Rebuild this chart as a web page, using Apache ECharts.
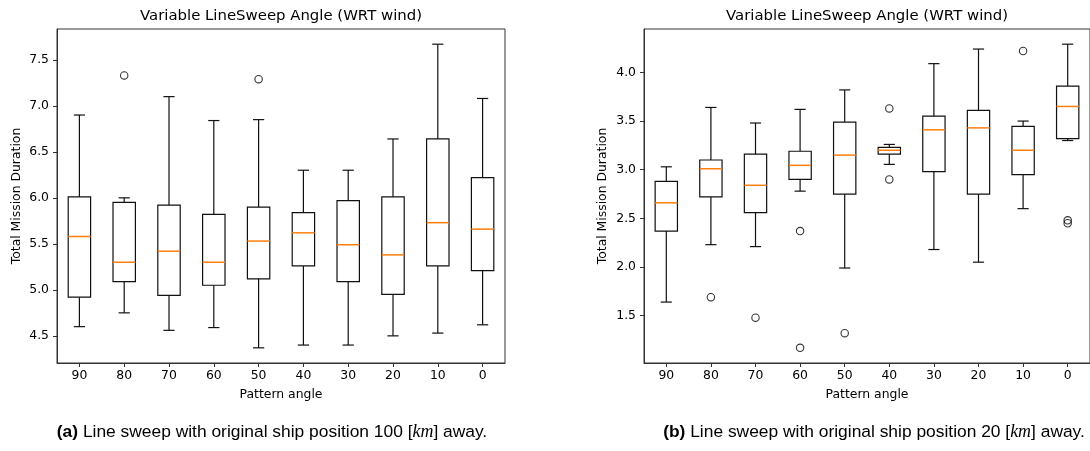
<!DOCTYPE html>
<html><head><meta charset="utf-8">
<script src="https://cdn.jsdelivr.net/npm/echarts@6/dist/echarts.min.js"></script>
<style>html,body{margin:0;padding:0;background:#fff}#c{width:1090px;height:451px}</style>
</head><body><div id="c"></div>
<script>
// ---- data ----
const categories = ['90','80','70','60','50','40','30','20','10','0'];

// (a) 100 km
const lowA  = [4.60, 4.75, 4.56, 4.59, 4.37, 4.40, 4.40, 4.50, 4.53, 4.62];
const q1A   = [4.92, 5.09, 4.94, 5.05, 5.12, 5.26, 5.09, 4.95, 5.26, 5.21];
const medA  = [5.58, 5.30, 5.42, 5.30, 5.53, 5.62, 5.49, 5.38, 5.73, 5.66];
const q3A   = [6.01, 5.95, 5.92, 5.82, 5.90, 5.84, 5.97, 6.01, 6.64, 6.22];
const highA = [6.90, 6.00, 7.10, 6.84, 6.85, 6.30, 6.30, 6.64, 7.67, 7.08];
const outliersA = [['80', 7.33], ['50', 7.29]];
const yTicksA = [4.5, 5.0, 5.5, 6.0, 6.5, 7.0, 7.5];
const yRangeA = [4.205, 7.835];

// (b) 20 km
const lowB  = [1.64, 2.23, 2.21, 2.78, 1.99, 3.055, 2.18, 2.05, 2.60, 3.30];
const q1B   = [2.37, 2.72, 2.56, 2.90, 2.75, 3.16, 2.98, 2.75, 2.95, 3.32];
const medB  = [2.66, 3.01, 2.84, 3.045, 3.15, 3.20, 3.41, 3.43, 3.20, 3.65];
const q3B   = [2.88, 3.10, 3.16, 3.19, 3.49, 3.23, 3.55, 3.61, 3.445, 3.86];
const highB = [3.03, 3.64, 3.48, 3.62, 3.82, 3.26, 4.09, 4.24, 3.50, 4.29];
const outliersB = [['80', 1.69], ['70', 1.48], ['60', 2.37], ['60', 1.17], ['50', 1.32],
                   ['40', 3.63], ['40', 2.90], ['10', 4.22], ['0', 2.48], ['0', 2.45]];
const yTicksB = [1.5, 2.0, 2.5, 3.0, 3.5, 4.0];
const yRangeB = [1.014, 4.446];

const titleText = 'Variable LineSweep Angle (WRT wind)';
const xName = 'Pattern angle';
const yName = 'Total Mission Duration';

// ---- rendering ----
function boxData(low, q1, med, q3, high) {
  return categories.map((c, i) => [i, low[i], q1[i], med[i], q3[i], high[i]]);
}
function seg(x1, y1, x2, y2, color, w) {
  return {type: 'line', shape: {x1, y1, x2, y2}, style: {stroke: color, lineWidth: w}};
}
function renderBox(params, api) {
  const x = api.value(0);
  const lo = api.coord([x, api.value(1)]);
  const q1 = api.coord([x, api.value(2)]);
  const md = api.coord([x, api.value(3)]);
  const q3 = api.coord([x, api.value(4)]);
  const hi = api.coord([x, api.value(5)]);
  const band = api.size([1, 0])[0];
  const bw = band * 0.5, cw = band * 0.25;
  const cx = lo[0];
  const k = '#111', lw = 1.2;
  return {type: 'group', children: [
    seg(cx, lo[1], cx, q1[1], k, lw),
    seg(cx, q3[1], cx, hi[1], k, lw),
    seg(cx - cw / 2, lo[1], cx + cw / 2, lo[1], k, lw),
    seg(cx - cw / 2, hi[1], cx + cw / 2, hi[1], k, lw),
    {type: 'rect', shape: {x: cx - bw / 2, y: q3[1], width: bw, height: q1[1] - q3[1]},
     style: {fill: 'rgba(0,0,0,0)', stroke: k, lineWidth: lw}},
    seg(cx - bw / 2, md[1], cx + bw / 2, md[1], '#ff7f0e', 1.5)
  ]};
}

const FONT = 'DejaVu Sans';
const axisColor = '#333';
function xAxisOf(gi) {
  return {
    type: 'category', gridIndex: gi, data: categories, boundaryGap: true,
    axisLine: {show: true, lineStyle: {color: axisColor, width: 1}},
    axisTick: {show: true, alignWithLabel: true, length: 4, lineStyle: {color: axisColor}},
    axisLabel: {color: '#000', fontSize: 12.4, fontFamily: FONT, margin: 7},
    splitLine: {show: false},
    name: xName, nameLocation: 'middle', nameGap: 26,
    nameTextStyle: {color: '#000', fontSize: 12.4, fontFamily: FONT}
  };
}
function yAxisOf(gi, range, ticks, gap) {
  return {
    type: 'value', gridIndex: gi, min: range[0], max: range[1],
    axisLine: {show: true, lineStyle: {color: axisColor, width: 1}},
    axisTick: {show: true, length: 4, customValues: ticks, lineStyle: {color: axisColor}},
    axisLabel: {color: '#000', fontSize: 12.4, fontFamily: FONT, margin: 8,
                customValues: ticks, formatter: v => Number(v).toFixed(1)},
    splitLine: {show: false},
    name: yName, nameLocation: 'middle', nameGap: gap, nameRotate: 90,
    nameTextStyle: {color: '#000', fontSize: 12.4, fontFamily: FONT}
  };
}
function fliers(data, xi) {
  return {type: 'scatter', xAxisIndex: xi, yAxisIndex: xi, data: data,
          symbol: 'circle', symbolSize: 7.4,
          itemStyle: {color: 'rgba(0,0,0,0)', borderColor: '#000', borderWidth: 1.1}};
}

const chart = echarts.init(document.getElementById('c'), null, {renderer: 'canvas'});
const CAP = 17.4;
const captionRich = {
  b: {fontWeight: 'bold', fontFamily: 'Liberation Sans', fontSize: CAP, fill: '#000'},
  i: {fontStyle: 'italic', fontFamily: 'Liberation Serif', fontSize: CAP + 0.5, fill: '#000'}
};
chart.setOption({
  animation: false,
  backgroundColor: '#fff',
  title: [
    {text: titleText, left: 281, top: 9, textAlign: 'center', padding: 0,
     textStyle: {fontFamily: FONT, fontSize: 14.9, fontWeight: 'normal', color: '#000'}},
    {text: titleText, left: 867, top: 9, textAlign: 'center', padding: 0,
     textStyle: {fontFamily: FONT, fontSize: 14.9, fontWeight: 'normal', color: '#000'}}
  ],
  grid: [
    {left: 57, top: 29, width: 448, height: 334, show: true, borderColor: axisColor, borderWidth: 1, backgroundColor: 'transparent'},
    {left: 644, top: 29, width: 447, height: 334, show: true, borderColor: axisColor, borderWidth: 1, backgroundColor: 'transparent'}
  ],
  xAxis: [xAxisOf(0), xAxisOf(1)],
  yAxis: [yAxisOf(0, yRangeA, yTicksA, 34), yAxisOf(1, yRangeB, yTicksB, 35)],
  series: [
    {type: 'custom', xAxisIndex: 0, yAxisIndex: 0, renderItem: renderBox,
     data: boxData(lowA, q1A, medA, q3A, highA), encode: {x: 0, y: [1, 2, 3, 4, 5]}},
    fliers(outliersA, 0),
    {type: 'custom', xAxisIndex: 1, yAxisIndex: 1, renderItem: renderBox,
     data: boxData(lowB, q1B, medB, q3B, highB), encode: {x: 0, y: [1, 2, 3, 4, 5]}},
    fliers(outliersB, 1)
  ],
  graphic: [
    {type: 'text', x: 272, y: 432,
     style: {text: '{b|(a)} Line sweep with original ship position 100 [{i|km}] away.',
             font: CAP + 'px "Liberation Sans"', fill: '#000', align: 'center', verticalAlign: 'middle', rich: captionRich}},
    {type: 'text', x: 874, y: 432,
     style: {text: '{b|(b)} Line sweep with original ship position 20 [{i|km}] away.',
             font: CAP + 'px "Liberation Sans"', fill: '#000', align: 'center', verticalAlign: 'middle', rich: captionRich}}
  ]
});
</script>
</body></html>
